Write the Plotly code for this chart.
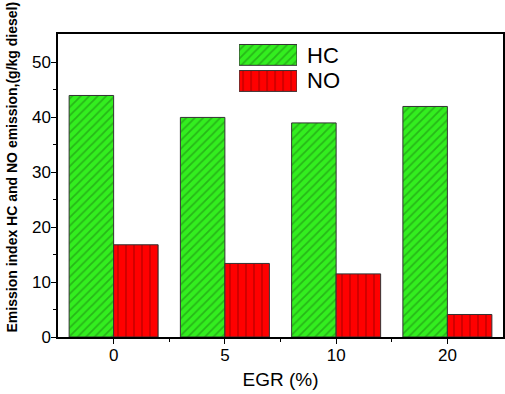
import plotly.graph_objects as go

categories = ["0", "5", "10", "20"]
hc_values = [44.0, 40.0, 39.0, 42.0]
no_values = [16.8, 13.4, 11.5, 4.1]
series_names = ["HC", "NO"]
y_tick_vals = [0, 10, 20, 30, 40, 50]
y_title = "<b>Emission index HC and NO emission,(g/kg diesel)</b>"
x_title = "EGR (%)"

x_pos = list(range(len(categories)))

GREEN = "#33ee1f"
RED = "#ff0000"
FONT = "Arial, Liberation Sans, sans-serif"

hc_style = dict(color=GREEN, line=dict(color="#333333", width=1),
                pattern=dict(shape="/", size=6, solidity=0.3, fgcolor="#1c8012"))
no_style = dict(color=RED, line=dict(color="#333333", width=1),
                pattern=dict(shape="|", size=8, solidity=0.15, fgcolor="#6a0000"))

fig = go.Figure()
fig.add_trace(go.Bar(x=x_pos, y=hc_values, name=series_names[0], marker=hc_style,
                     showlegend=False))
fig.add_trace(go.Bar(x=x_pos, y=no_values, name=series_names[1], marker=no_style,
                     showlegend=False))

# legend boxes drawn as bars on a small inset axis
fig.add_trace(go.Bar(x=[1], y=[series_names[0]], orientation="h", marker=hc_style,
                     xaxis="x2", yaxis="y2", showlegend=False, hoverinfo="skip"))
fig.add_trace(go.Bar(x=[1], y=[series_names[1]], orientation="h", marker=no_style,
                     xaxis="x2", yaxis="y2", showlegend=False, hoverinfo="skip"))

axis_font = dict(family=FONT, size=17, color="black")

fig.update_layout(
    width=505, height=394,
    margin=dict(l=58, r=2, t=34, b=57),
    paper_bgcolor="white", plot_bgcolor="white",
    barmode="group", bargap=0.2, bargroupgap=0,
    font=dict(family=FONT, color="black"),
    showlegend=False,
    xaxis=dict(
        range=[-0.5, 3.5], tickvals=x_pos, ticktext=categories,
        showgrid=False, zeroline=False, automargin=False,
        showline=True, linecolor="black", linewidth=1.5, mirror=True,
        ticks="outside", ticklen=5, tickwidth=1.2, tickcolor="black",
        tickfont=axis_font, ticklabelstandoff=-3,
        minor=dict(tickvals=[0.5, 1.5, 2.5], ticks="outside", ticklen=3,
                   tickwidth=1.2, tickcolor="black"),
        title=dict(text=x_title, font=dict(family=FONT, size=19), standoff=9),
    ),
    yaxis=dict(
        range=[0, 55.2], tickvals=y_tick_vals,
        showgrid=False, zeroline=False, automargin=False,
        showline=True, linecolor="black", linewidth=1.5, mirror=True,
        ticks="outside", ticklen=5, tickwidth=1.2, tickcolor="black",
        tickfont=axis_font, ticklabelstandoff=-3,
        minor=dict(tickvals=[5, 15, 25, 35, 45], ticks="outside", ticklen=3,
                   tickwidth=1.2, tickcolor="black"),
    ),
    xaxis2=dict(domain=[0.407, 0.537], range=[0, 1], anchor="y2",
                visible=False, fixedrange=True),
    yaxis2=dict(domain=[0.802, 0.974], anchor="x2", visible=False, type="category",
                categoryorder="array", categoryarray=[series_names[1], series_names[0]],
                fixedrange=True),
    annotations=[
        dict(text=series_names[0], x=0.555, y=0.93, xref="paper", yref="paper",
             xanchor="left", yanchor="middle", showarrow=False,
             font=dict(family=FONT, size=22, color="black")),
        dict(text=series_names[1], x=0.555, y=0.845, xref="paper", yref="paper",
             xanchor="left", yanchor="middle", showarrow=False,
             font=dict(family=FONT, size=22, color="black")),
        dict(text=y_title, textangle=-90, x=-0.103, y=0.56, xref="paper", yref="paper",
             xanchor="center", yanchor="middle", showarrow=False,
             font=dict(family=FONT, size=14, color="black")),
    ],
)

fig.write_html(
    "out.html",
    config={"displayModeBar": False, "responsive": False},
    post_script=("document.documentElement.style.overflow='hidden';"
                 "document.body.style.margin='0';"
                 "document.body.style.overflow='hidden';"),
)
